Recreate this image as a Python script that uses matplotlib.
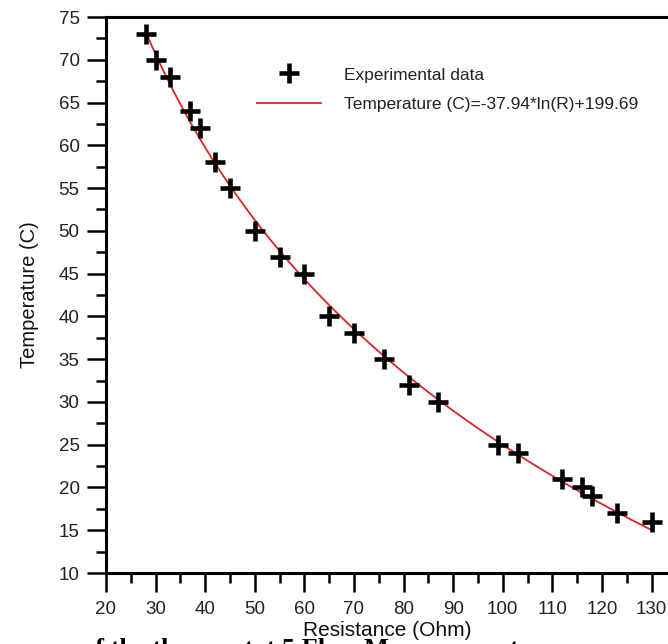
import numpy as np
import matplotlib
matplotlib.use("Agg")
import matplotlib.pyplot as plt
from matplotlib.ticker import MultipleLocator

# ---- data ----
resistance = [28, 30, 33, 37, 39, 42, 45, 50, 55, 60, 65, 70, 76, 81, 87,
              99, 103, 112, 116, 118, 123, 130]
temperature = [73, 70, 68, 64, 62, 58, 55, 50, 47, 45, 40, 38, 35, 32, 30,
               25, 24, 21, 20, 19, 17, 16]
fit_slope = -37.94
fit_intercept = 199.69
fit_range = [28, 130]
x_ticks = [20, 30, 40, 50, 60, 70, 80, 90, 100, 110, 120, 130]
y_ticks = [10, 15, 20, 25, 30, 35, 40, 45, 50, 55, 60, 65, 70, 75]
legend_labels = ["Experimental data", "Temperature (C)=-37.94*ln(R)+199.69"]
x_label = "Resistance (Ohm)"
y_label = "Temperature (C)"
footer_text = "of the thermostat 5 Flow Measurement"

plt.rcParams['font.family'] = ['Liberation Sans', 'DejaVu Sans']

W, H = 668, 644
fig = plt.figure(figsize=(W / 100, H / 100), dpi=100)
ax = fig.add_axes([106 / W, 1 - 573 / H, (W - 106) / W, (573 - 17) / H])

r_fit = np.linspace(fit_range[0], fit_range[1], 300)
t_fit = fit_slope * np.log(r_fit) + fit_intercept

pts, = ax.plot(resistance, temperature, linestyle='none', marker='+',
               markersize=15, markeredgewidth=3.3, color='black', zorder=3,
               label=legend_labels[0])
line, = ax.plot(r_fit, t_fit, color='#d8262a', linewidth=1.3, zorder=2,
                label=legend_labels[1])

ax.set_xlim(20, 20 + (W - 106) / 4.96)
ax.set_ylim(10, 75)
ax.set_xticks(x_ticks)
ax.set_yticks(y_ticks)
ax.xaxis.set_minor_locator(MultipleLocator(5))
ax.yaxis.set_minor_locator(MultipleLocator(2.5))

for s in ['left', 'bottom', 'top']:
    ax.spines[s].set_linewidth(2.2)
ax.spines['right'].set_visible(False)

ax.tick_params(which='major', direction='out', length=14, width=1.8,
               labelsize=13.5, labelcolor='#222222')
ax.tick_params(which='minor', direction='out', length=7, width=1.8)
ax.tick_params(axis='x', which='major', pad=6)
ax.tick_params(axis='y', which='major', pad=5)

ax.set_xlabel(x_label, fontsize=15, color='#111111', labelpad=2)
ax.set_ylabel(y_label, fontsize=14.5, color='#111111', labelpad=14)

leg = ax.legend(handles=[pts, line], loc='center left',
                bbox_to_anchor=(257 / W, 1 - 89.5 / H),
                bbox_transform=fig.transFigure, frameon=False,
                fontsize=12.5, handlelength=3.7, handletextpad=1.3,
                labelspacing=0.8, borderpad=0, borderaxespad=0)
for t in leg.get_texts():
    t.set_color('#222222')

fig.text(82 / W, (H - 656) / H, footer_text, fontsize=19,
         family=['Liberation Serif', 'DejaVu Serif'], fontweight='bold',
         ha='left', va='baseline', color='black')

fig.savefig("out.png", dpi=100)
